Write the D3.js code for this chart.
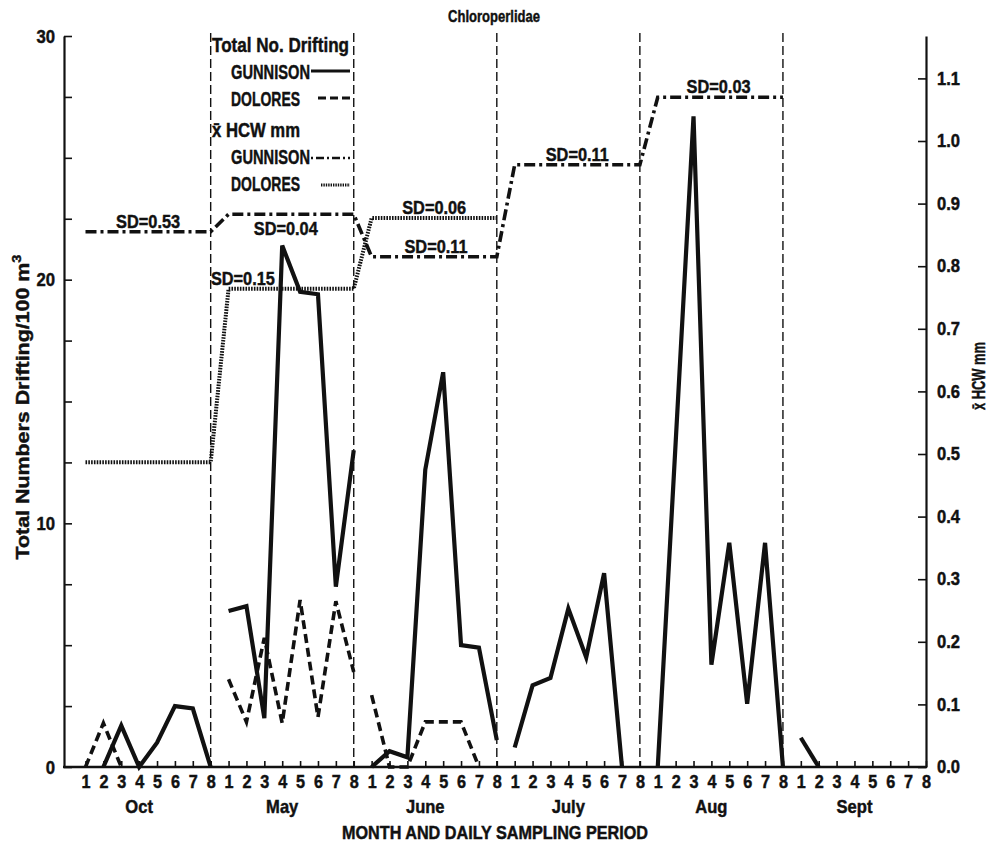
<!DOCTYPE html>
<html>
<head>
<meta charset="utf-8">
<script src="https://cdn.jsdelivr.net/npm/d3@7/dist/d3.min.js"></script>
<style>
  html, body { margin: 0; padding: 0; background: #fff; }
  svg text { font-family: 'Liberation Sans', Arial, Helvetica, sans-serif; font-weight: bold; fill: #111; stroke: #111; stroke-width: 0.45px; }
</style>
</head>
<body>
<svg id="chart" width="991" height="844"></svg>
<script>
// ---------------- DATA ----------------
const months = ["Oct", "May", "June", "July", "Aug", "Sept"];
const days = [1, 2, 3, 4, 5, 6, 7, 8];

// Total numbers drifting / 100 m3 (one array of 8 days per month; null = no point)
const gunnisonTotal = [
  [null, 0, 1.7, 0, 1.0, 2.5, 2.4, 0],
  [6.4, 6.6, 2.0, 21.4, 19.5, 19.4, 7.4, 13.0],
  [0, 0.65, 0.4, 12.2, 16.2, 5.0, 4.9, 1.1],
  [0.8, 3.35, 3.65, 6.5, 4.5, 7.95, 0, null],
  [0, 13.3, 26.7, 4.2, 9.2, 2.6, 9.2, 0],
  [1.2, 0, null, null, null, null, null, null]
];
const doloresTotal = [
  [0, 1.8, 0, null, null, null, null, null],
  [3.6, 1.85, 5.3, 1.8, 6.85, 2.05, 6.8, 3.9],
  [2.95, 0, 0, 1.85, 1.85, 1.85, 0, null],
  [null, null, null, null, null, null, null, null],
  [null, null, null, null, null, null, null, null],
  [null, null, null, null, null, null, null, null]
];

// Mean HCW mm per month
const gunnisonHCW = [0.855, 0.883, 0.815, 0.962, 1.07, null];
const doloresHCW  = [0.487, 0.764, 0.877, null, null, null];

// SD annotations: month index, series, day anchor, placement
const sdNotes = [
  { month: 0, series: "gunnison", day: 4.5, text: "SD=0.53", place: "above" },
  { month: 1, series: "gunnison", day: 4.2, text: "SD=0.04", place: "below" },
  { month: 1, series: "dolores",  day: 1.8, text: "SD=0.15", place: "above" },
  { month: 2, series: "dolores",  day: 4.5, text: "SD=0.06", place: "above" },
  { month: 2, series: "gunnison", day: 4.6, text: "SD=0.11", place: "above" },
  { month: 3, series: "gunnison", day: 4.5, text: "SD=0.11", place: "above" },
  { month: 4, series: "gunnison", day: 4.4, text: "SD=0.03", place: "above" }
];

const leftTicks = [0, 2.5, 5, 7.5, 10, 12.5, 15, 17.5, 20, 22.5, 25, 27.5, 30];
const leftLabels = [0, 10, 20, 30];
const rightTicks = [0, 0.1, 0.2, 0.3, 0.4, 0.5, 0.6, 0.7, 0.8, 0.9, 1.0, 1.1];

// ---------------- CHART ----------------
const svg = d3.select("#chart");
const X0 = 64, X1 = 926, Y0 = 767, Ytop = 36;

const x = d3.scaleLinear().domain([0, months.length * days.length - 1]).range([85.5, 926]);
const yL = d3.scaleLinear().domain([0, 30]).range([Y0, Ytop]);
const yR = d3.scaleLinear().domain([0, (Y0 - Ytop) / 626]).range([Y0, Ytop]);
const idx = (m, d) => m * days.length + (d - 1);

// horizontally condense text around its x anchor
function condense(sel, s) {
  sel.each(function () {
    const t = d3.select(this);
    const xa = +(t.attr("x") || 0);
    const prev = t.attr("transform") || "";
    t.attr("transform", `${prev} translate(${xa},0) scale(${s},1) translate(${-xa},0)`);
  });
}

// month separators
const sepG = svg.append("g");
months.slice(0, -1).forEach((mName, m) => {
  sepG.append("line")
    .attr("x1", x(idx(m, 8))).attr("x2", x(idx(m, 8)))
    .attr("y1", 33).attr("y2", Y0)
    .attr("stroke", "#111").attr("stroke-width", 1.4)
    .attr("stroke-dasharray", "9,4");
});

// Left axis
const gL = svg.append("g").attr("transform", `translate(${X0},0)`)
  .call(d3.axisLeft(yL).tickValues(leftTicks).tickSizeInner(-8).tickSizeOuter(0).tickPadding(9)
    .tickFormat(d => leftLabels.includes(d) ? d : ""));
gL.selectAll("path").attr("stroke", "#111").attr("stroke-width", 2.2);
gL.selectAll("line").attr("stroke", "#111").attr("stroke-width", 1.6);
gL.selectAll("text").style("font-size", "19px").attr("fill", "#111").call(condense, 0.88);

// Right axis
const gR = svg.append("g").attr("transform", `translate(${X1},0)`)
  .call(d3.axisRight(yR).tickValues(rightTicks).tickSizeInner(-8).tickSizeOuter(0).tickPadding(11)
    .tickFormat(d3.format(".1f")));
gR.selectAll("path").attr("stroke", "#111").attr("stroke-width", 2.2);
gR.selectAll("line").attr("stroke", "#111").attr("stroke-width", 1.6);
gR.selectAll("text").style("font-size", "18px").attr("fill", "#111").call(condense, 0.92);

// X axis
const allIdx = d3.range(months.length * days.length);
const gX = svg.append("g").attr("transform", `translate(0,${Y0})`)
  .call(d3.axisBottom(x).tickValues(allIdx).tickSizeInner(-6).tickSizeOuter(0).tickPadding(8)
    .tickFormat(i => days[i % days.length]));
gX.select("path").remove();
gX.selectAll("line").attr("stroke", "#111").attr("stroke-width", 1.6);
gX.selectAll("text").style("font-size", "18px").attr("fill", "#111").call(condense, 0.9);
svg.append("line").attr("x1", X0 - 1).attr("x2", X1 + 1).attr("y1", Y0).attr("y2", Y0)
  .attr("stroke", "#111").attr("stroke-width", 2.4);

// Month labels
svg.append("g").selectAll("text").data(months).join("text")
  .attr("x", (d, m) => x(idx(m, 4)))
  .attr("y", 813)
  .attr("text-anchor", "middle")
  .style("font-size", "18px")
  .text(d => d)
  .call(condense, 0.92);

// Axis titles
svg.append("text").attr("x", 495).attr("y", 839).attr("text-anchor", "middle")
  .style("font-size", "18px").attr("textLength", 306).attr("lengthAdjust", "spacingAndGlyphs")
  .text("MONTH AND DAILY SAMPLING PERIOD");
svg.append("text").attr("x", 494).attr("y", 22).attr("text-anchor", "middle")
  .style("font-size", "17px").attr("textLength", 92).attr("lengthAdjust", "spacingAndGlyphs")
  .text("Chloroperlidae");
const yt = svg.append("text").attr("transform", "translate(29,407) rotate(-90)")
  .attr("text-anchor", "middle").style("font-size", "19px")
  .attr("textLength", 305).attr("lengthAdjust", "spacingAndGlyphs");
yt.append("tspan").text("Total Numbers Drifting/100 m");
yt.append("tspan").attr("dy", -8).style("font-size", "13px").text("3");
svg.append("text").attr("transform", "translate(985,376) rotate(-90)")
  .attr("text-anchor", "middle").style("font-size", "19px")
  .attr("textLength", 68).attr("lengthAdjust", "spacingAndGlyphs").text("x\u0304 HCW mm");

// Total lines (each month a separate segment)
const totLine = d3.line()
  .defined(d => d.v !== null)
  .x(d => x(d.i)).y(d => yL(d.v));
function monthPts(arr, m) { return arr.map((v, k) => ({ i: idx(m, days[k]), v })); }

const lineG = svg.append("g").attr("fill", "none").attr("stroke", "#111").attr("stroke-linejoin", "miter");
doloresTotal.forEach((arr, m) => {
  lineG.append("path").attr("d", totLine(monthPts(arr, m)))
    .attr("stroke-width", 3.6).attr("stroke-dasharray", "9,5");
});
gunnisonTotal.forEach((arr, m) => {
  lineG.append("path").attr("d", totLine(monthPts(arr, m)))
    .attr("stroke-width", 4.2);
});

// HCW lines (continuous, flat over each month)
function hcwPts(arr) {
  const pts = [];
  arr.forEach((v, m) => { if (v !== null) { pts.push({ i: idx(m, 1), v }); pts.push({ i: idx(m, 8), v }); } });
  return pts;
}
const hcwLine = d3.line().x(d => x(d.i)).y(d => yR(d.v));
lineG.append("path").attr("d", hcwLine(hcwPts(doloresHCW)))
  .attr("stroke-width", 4).attr("stroke-dasharray", "1.6,1.2");
lineG.append("path").attr("d", hcwLine(hcwPts(gunnisonHCW)))
  .attr("stroke-width", 3.6).attr("stroke-dasharray", "11,4,3,4");

// SD notes
svg.append("g").selectAll("text").data(sdNotes).join("text")
  .attr("x", d => x(idx(d.month, 1) + d.day - 1))
  .attr("y", d => {
    const v = (d.series === "gunnison" ? gunnisonHCW : doloresHCW)[d.month];
    return yR(v) + (d.place === "above" ? -4 : 21);
  })
  .attr("text-anchor", "middle")
  .style("font-size", "19px")
  .text(d => d.text)
  .call(condense, 0.86);

// Legend
const leg = svg.append("g");
const legRows = [
  { t: "Total No. Drifting", x: 212, y: 52, w: 137 },
  { t: "GUNNISON", x: 231, y: 79, w: 79, s: { x1: 311, x2: 350, y: 71, w: 3, dash: null } },
  { t: "DOLORES", x: 231, y: 106, w: 69, s: { x1: 318, x2: 350, y: 98, w: 3, dash: "8,4" } },
  { t: "x\u0304 HCW mm", x: 212, y: 137, w: 88 },
  { t: "GUNNISON", x: 231, y: 164, w: 79, s: { x1: 311, x2: 350, y: 158, w: 2.6, dash: "2,3,8,3" } },
  { t: "DOLORES", x: 231, y: 191, w: 69, s: { x1: 321, x2: 350, y: 185, w: 3, dash: "1.4,1" } }
];
legRows.forEach(r => {
  leg.append("text").attr("x", r.x).attr("y", r.y).style("font-size", "20px")
    .attr("textLength", r.w).attr("lengthAdjust", "spacingAndGlyphs").text(r.t);
  if (r.s) {
    leg.append("line").attr("x1", r.s.x1).attr("x2", r.s.x2).attr("y1", r.s.y).attr("y2", r.s.y)
      .attr("stroke", "#111").attr("stroke-width", r.s.w)
      .attr("stroke-dasharray", r.s.dash);
  }
});
</script>
</body>
</html>
